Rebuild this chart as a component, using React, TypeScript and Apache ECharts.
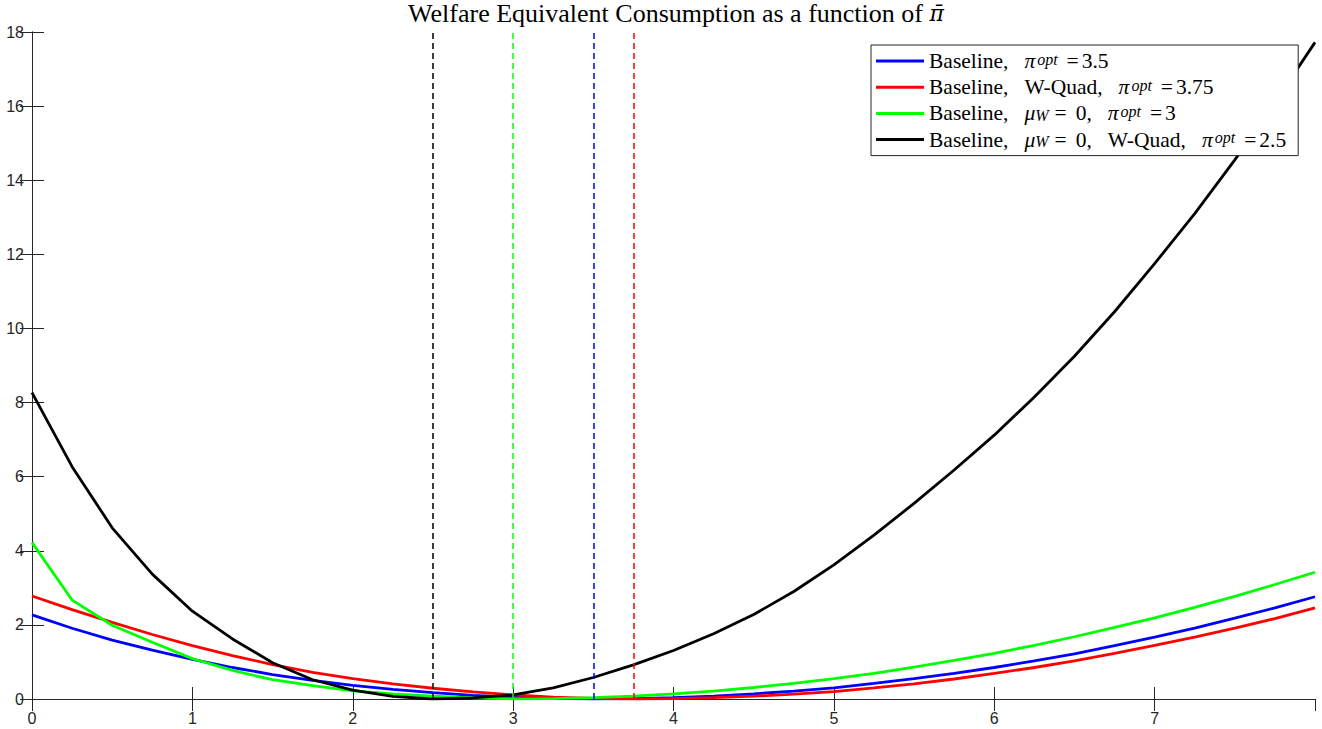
import React, { useEffect, useRef } from "react";
import * as echarts from "echarts";

const xValues = [0, 0.25, 0.5, 0.75, 1, 1.25, 1.5, 1.75, 2, 2.25, 2.5, 2.75, 3, 3.25, 3.5, 3.75, 4, 4.25, 4.5, 4.75, 5, 5.25, 5.5, 5.75, 6, 6.25, 6.5, 6.75, 7, 7.25, 7.5, 7.75, 8];

const baselineVals = [2.27, 1.91, 1.59, 1.32, 1.07, 0.85, 0.66, 0.5, 0.37, 0.26, 0.17, 0.1, 0.05, 0.015, 0.0, 0.01, 0.035, 0.08, 0.14, 0.21, 0.3, 0.42, 0.55, 0.69, 0.85, 1.03, 1.22, 1.44, 1.67, 1.91, 2.18, 2.46, 2.76];
const wQuadVals = [2.78, 2.41, 2.07, 1.74, 1.44, 1.17, 0.93, 0.72, 0.55, 0.41, 0.29, 0.19, 0.11, 0.05, 0.015, 0.0, 0.01, 0.035, 0.075, 0.13, 0.2, 0.3, 0.41, 0.54, 0.69, 0.85, 1.03, 1.23, 1.45, 1.67, 1.91, 2.17, 2.46];
const muZeroVals = [4.22, 2.67, 1.99, 1.53, 1.09, 0.77, 0.52, 0.36, 0.22, 0.14, 0.08, 0.03, 0.0, 0.01, 0.035, 0.08, 0.14, 0.21, 0.31, 0.42, 0.55, 0.69, 0.86, 1.04, 1.23, 1.45, 1.68, 1.93, 2.19, 2.47, 2.77, 3.09, 3.42];
const muZeroQuadVals = [8.27, 6.27, 4.62, 3.37, 2.37, 1.62, 0.98, 0.52, 0.24, 0.07, 0.0, 0.03, 0.11, 0.3, 0.58, 0.92, 1.31, 1.76, 2.28, 2.9, 3.62, 4.42, 5.28, 6.18, 7.12, 8.15, 9.25, 10.45, 11.75, 13.1, 14.55, 16.1, 17.72];

const seriesNames = ["Baseline, pi=3.5", "Baseline, W-Quad, pi=3.75", "Baseline, mu=0, pi=3", "Baseline, mu=0, W-Quad, pi=2.5"];
const legendRich = [
  "{n|Baseline,}{sp| }{m|π}{sup|opt}{eq|=}{n|3.5}",
  "{n|Baseline,}{sp| }{n|W-Quad,}{sp| }{m|π}{sup|opt}{eq|=}{n|3.75}",
  "{n|Baseline,}{sp| }{m|μ}{sub|W}{eq2|=}{n|0,}{sp| }{m|π}{sup|opt}{eq|=}{n|3}",
  "{n|Baseline,}{sp| }{m|μ}{sub|W}{eq2|=}{n|0,}{sp| }{n|W-Quad,}{sp| }{m|π}{sup|opt}{eq|=}{n|2.5}",
];
const seriesColors = ["#0000ff", "#ff0000", "#00ff00", "#000000"];
const optimalPi = [3.5, 3.75, 3, 2.5];
const allValues = [baselineVals, wQuadVals, muZeroVals, muZeroQuadVals];
const titleText = "{n|Welfare Equivalent Consumption as a function of }{m|π̄}";

const SERIF = "'Liberation Serif', 'Times New Roman', serif";
const SANS = "'Liberation Sans', Arial, Helvetica, sans-serif";
const AXIS_COLOR = "#262626";

export default function App() {
  const ref = useRef<HTMLDivElement>(null);
  useEffect(() => {
    if (!ref.current) return;
    const chart = echarts.init(ref.current, null, { renderer: "svg" });
    const series = allValues.map((vals, k) => ({
      type: "line",
      name: seriesNames[k],
      data: xValues.map((x, i) => [x, vals[i]]),
      symbol: "none",
      showSymbol: false,
      clip: true,
      lineStyle: { color: seriesColors[k], width: 2.8 },
      itemStyle: { color: seriesColors[k] },
      z: 2,
      markLine: {
        silent: true,
        symbol: ["none", "none"],
        label: { show: false },
        lineStyle: { color: seriesColors[k], type: [6, 4], width: 1.5, opacity: 1 },
        emphasis: { disabled: true },
        data: [{ xAxis: optimalPi[k] }],
        animation: false,
      },
    }));
    const axisCommon = {
      axisLine: { show: true, lineStyle: { color: AXIS_COLOR, width: 1 } },
      axisTick: { show: true, inside: true, length: 12, lineStyle: { color: AXIS_COLOR, width: 1 } },
      splitLine: { show: false },
    };
    const fs = 21.5;
    chart.setOption({
      animation: false,
      backgroundColor: "#ffffff",
      title: {
        text: titleText,
        left: 676,
        top: -1,
        padding: 0,
        textAlign: "center",
        textStyle: {
          rich: {
            n: { fontFamily: SERIF, fontSize: 26, color: "#000", fontWeight: "normal", lineHeight: 28 },
            m: { fontFamily: "'DejaVu Serif', serif", fontSize: 22, color: "#000", fontWeight: "normal", fontStyle: "italic", lineHeight: 28 },
          },
        },
      },
      grid: { left: 32, right: 7, top: 32, bottom: 30, containLabel: false },
      legend: {
        orient: "vertical",
        left: 871,
        top: 45,
        icon: "rect",
        itemWidth: 48,
        itemHeight: 3,
        itemGap: 4.2,
        padding: [5, 12, 5, 5],
        borderColor: AXIS_COLOR,
        borderWidth: 1,
        borderRadius: 0,
        backgroundColor: "#ffffff",
        data: seriesNames,
        formatter: (name: string) => legendRich[seriesNames.indexOf(name)],
        textStyle: {
          color: "#000",
          rich: {
            n: { fontFamily: SERIF, fontSize: fs, lineHeight: 20, color: "#000" },
            sp: { fontFamily: SERIF, fontSize: fs, lineHeight: 20, width: 16 },
            m: { fontFamily: SERIF, fontSize: fs, lineHeight: 20, color: "#000", fontStyle: "italic" },
            eq: { fontFamily: SERIF, fontSize: fs, lineHeight: 20, color: "#000", padding: [0, 3, 0, 0] },
            eq2: { fontFamily: SERIF, fontSize: fs, lineHeight: 20, color: "#000", padding: [0, 9, 0, 6] },
            sup: { fontFamily: SERIF, fontSize: 16, lineHeight: 10, color: "#000", fontStyle: "italic", verticalAlign: "top", padding: [0, 9, 0, 2] },
            sub: { fontFamily: SERIF, fontSize: 16, lineHeight: 10, color: "#000", fontStyle: "italic", verticalAlign: "bottom" },
          },
        },
      },
      xAxis: [
        {
          type: "value",
          min: 0,
          max: 8,
          interval: 1,
          position: "bottom",
          ...axisCommon,
          axisLabel: { show: true, showMaxLabel: false, margin: 11, fontFamily: SANS, fontSize: 16, color: AXIS_COLOR },
        },
        {
          type: "value",
          min: 0,
          max: 8,
          interval: 1,
          position: "top",
          ...axisCommon,
          axisLabel: { show: false },
        },
      ],
      yAxis: [
        {
          type: "value",
          min: 0,
          max: 18,
          interval: 2,
          position: "left",
          ...axisCommon,
          axisLabel: { show: true, margin: 8, fontFamily: SANS, fontSize: 16, color: AXIS_COLOR },
        },
        {
          type: "value",
          min: 0,
          max: 18,
          interval: 2,
          position: "right",
          ...axisCommon,
          axisLabel: { show: false },
        },
      ],
      series,
    });
    return () => chart.dispose();
  }, []);
  return (
    <div
      ref={ref}
      style={{ position: "fixed", left: 0, top: 0, width: 1322, height: 729, background: "#fff" }}
    />
  );
}
